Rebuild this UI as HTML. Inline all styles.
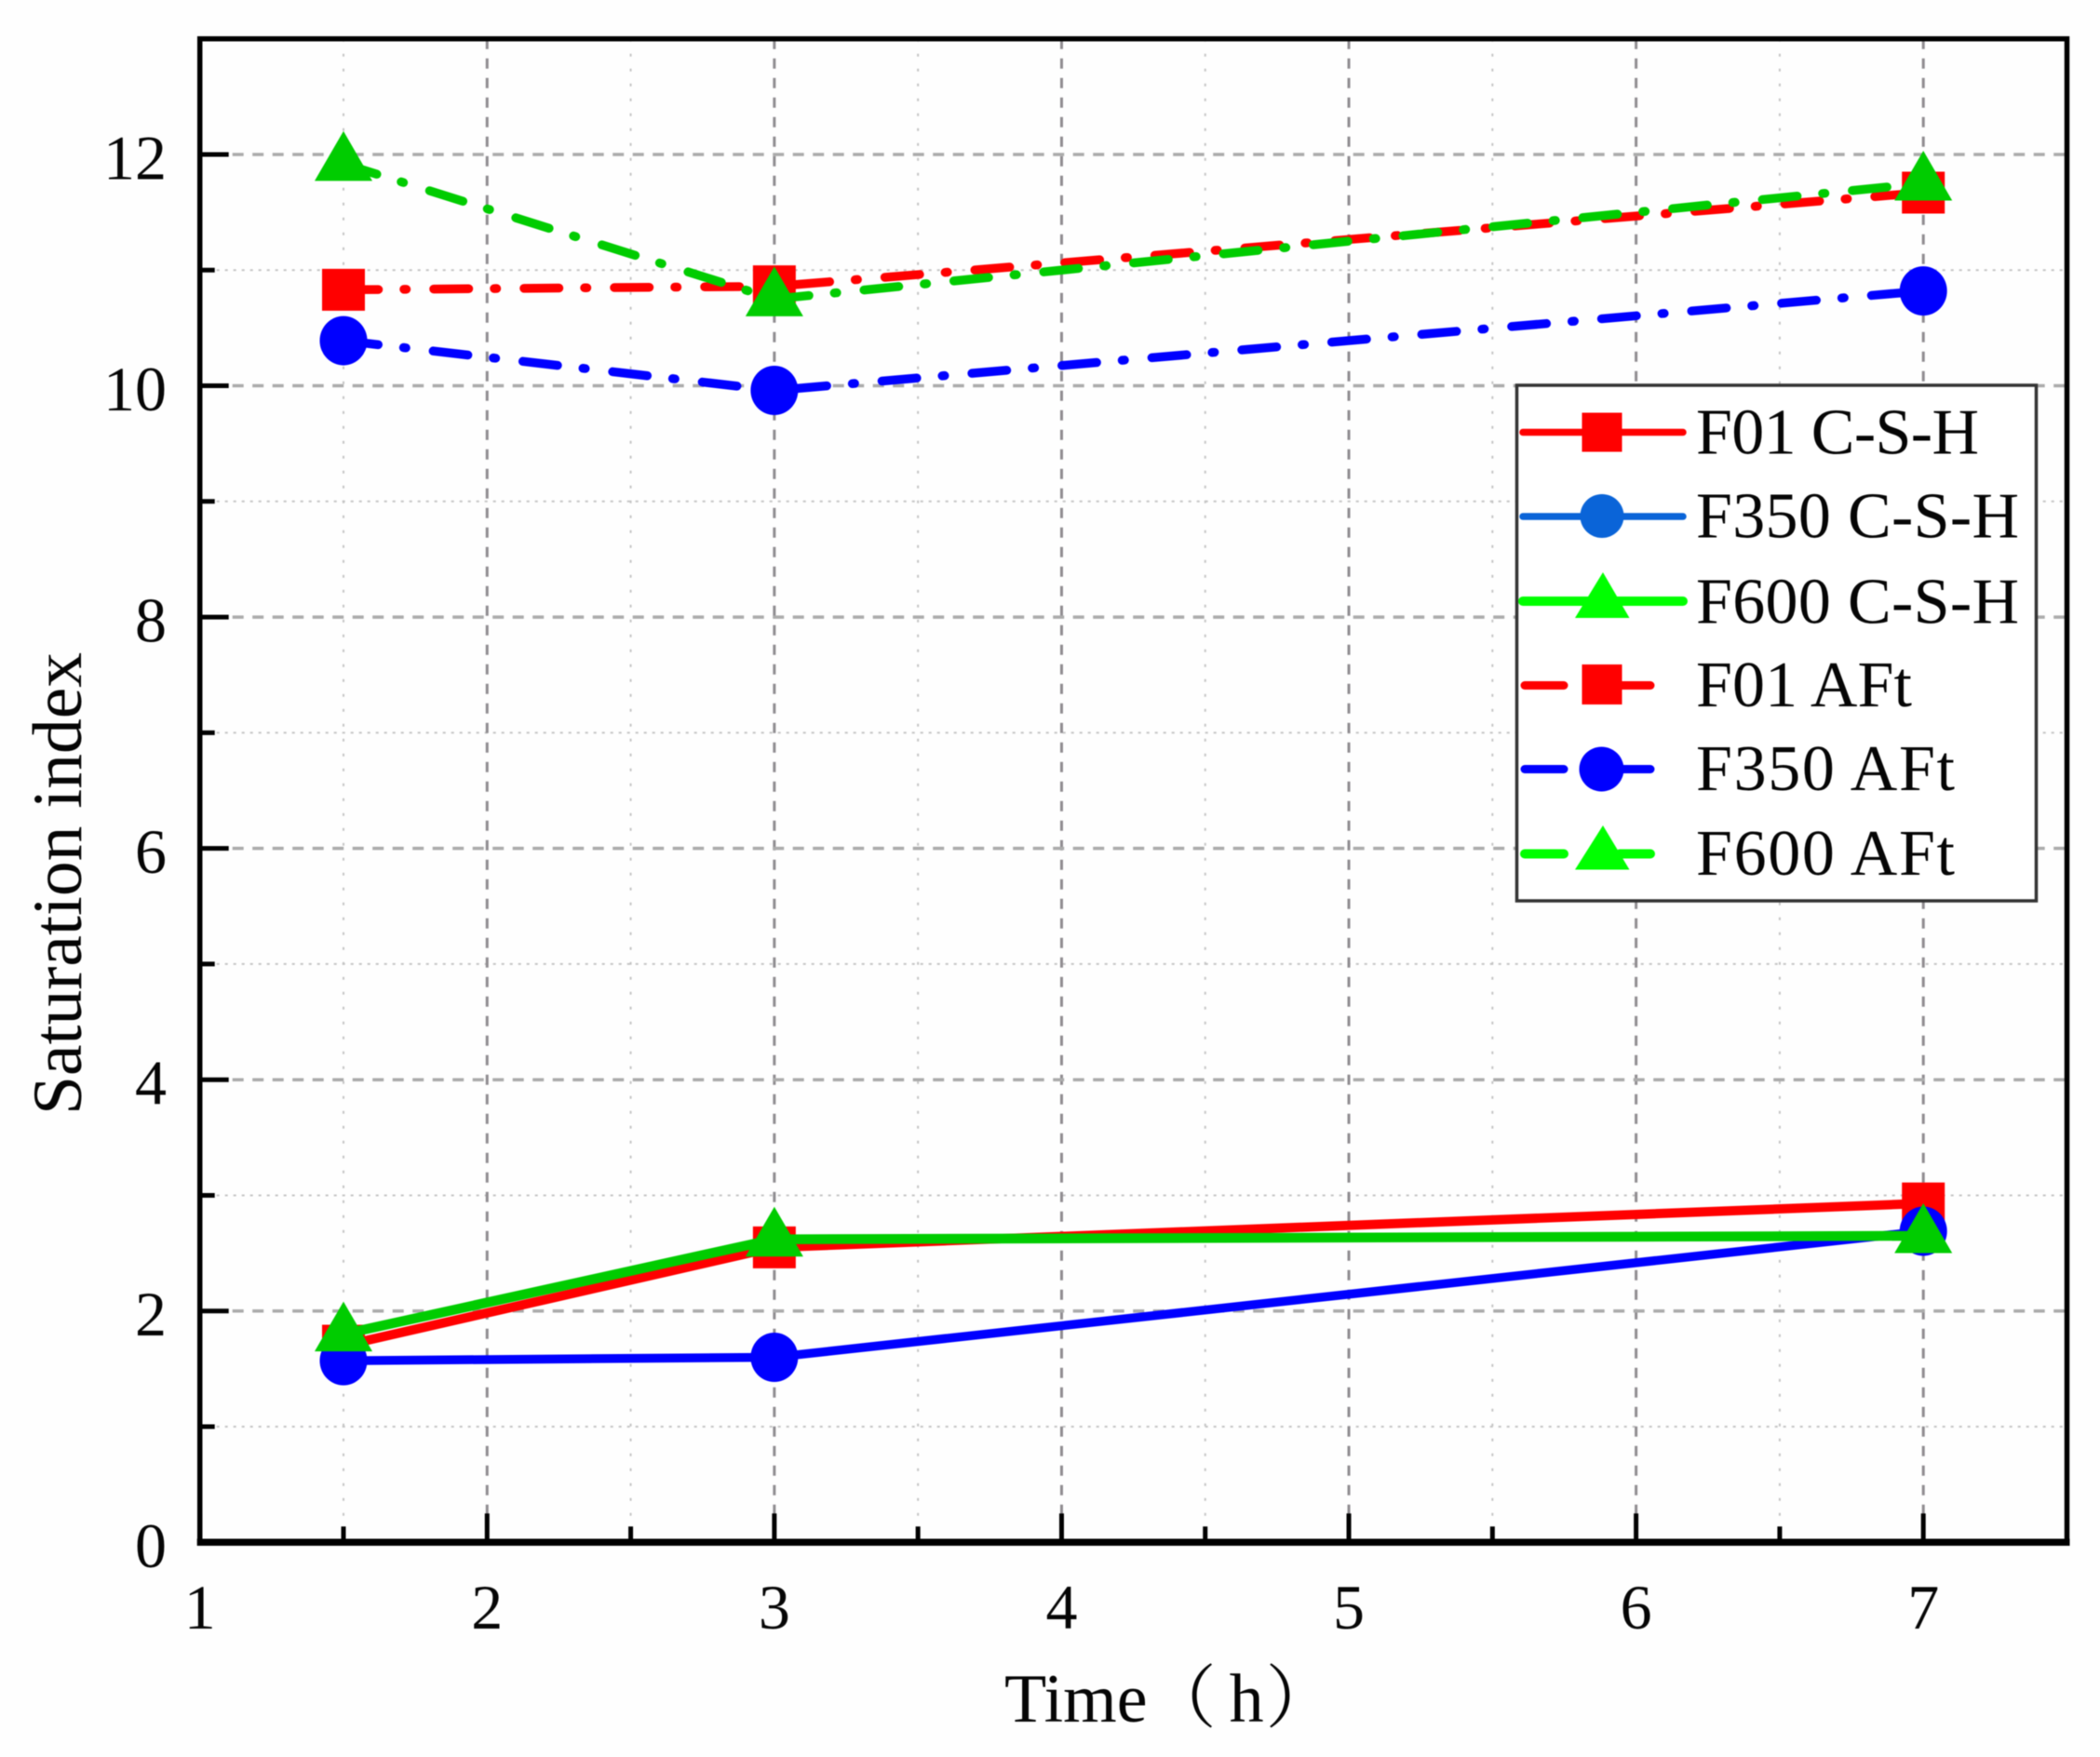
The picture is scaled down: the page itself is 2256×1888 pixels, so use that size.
<!DOCTYPE html>
<html lang="en">
<head>
<meta charset="utf-8">
<title>Saturation index vs time</title>
<style>
  html, body { margin: 0; padding: 0; background: #fefefe; }
  svg { display: block; filter: blur(0.6px); }
  text { font-family: "Liberation Serif", "Noto Serif CJK SC", serif; fill: #050505; }
</style>
</head>
<body>
<svg id="chart" xmlns="http://www.w3.org/2000/svg" width="2256" height="1888" viewBox="0 0 2256 1888">
  <rect x="0" y="0" width="2256" height="1888" fill="#fefefe"/>
  <g id="grid"></g>
  <g id="series"></g>
  <g id="axes"></g>
  <text x="1079" y="1850" font-size="74">Time（<tspan dx="14">h</tspan><tspan dx="2">）</tspan></text>
  <text transform="translate(87,949.5) rotate(-90)" text-anchor="middle" font-size="75.5">Saturation index</text>

  <g>
    <rect x="1629.5" y="414" width="558" height="554" fill="#ffffff" stroke="#333333" stroke-width="3.5"/>

    <g>
      <line x1="1636" y1="464.5" x2="1808" y2="464.5" stroke="#ff0000" stroke-width="7.5" stroke-linecap="round"/>
      <rect x="1699.5" y="443.5" width="43" height="42" fill="#ff0000"/>
      <text x="1822" y="487.5" font-size="70" textLength="304">F01 C-S-H</text>
    </g>
    <g>
      <line x1="1636" y1="555" x2="1808" y2="555" stroke="#0a64d8" stroke-width="7.5" stroke-linecap="round"/>
      <circle cx="1721" cy="554.5" r="23.5" fill="#0a64d8"/>
      <text x="1822" y="577.5" font-size="70" textLength="347">F350 C-S-H</text>
    </g>
    <g>
      <line x1="1636" y1="646" x2="1808" y2="646" stroke="#00ff00" stroke-width="10" stroke-linecap="round"/>
      <polygon points="1722,615 1750.5,664 1692,664" fill="#00ff00"/>
      <text x="1822" y="669.5" font-size="70" textLength="347">F600 C-S-H</text>
    </g>
    <g>
      <line x1="1638" y1="736.5" x2="1680" y2="736.5" stroke="#ff0000" stroke-width="9" stroke-linecap="round"/>
      <line x1="1740" y1="736.5" x2="1773" y2="736.5" stroke="#ff0000" stroke-width="9" stroke-linecap="round"/>
      <rect x="1699.5" y="714" width="43" height="43" fill="#ff0000"/>
      <text x="1822" y="759" font-size="70" textLength="232">F01 AFt</text>
    </g>
    <g>
      <line x1="1638" y1="826.5" x2="1680" y2="826.5" stroke="#0000ff" stroke-width="9" stroke-linecap="round"/>
      <line x1="1740" y1="826.5" x2="1773" y2="826.5" stroke="#0000ff" stroke-width="9" stroke-linecap="round"/>
      <circle cx="1720.5" cy="826.5" r="24" fill="#0000ff"/>
      <text x="1822" y="849" font-size="70" textLength="278">F350 AFt</text>
    </g>
    <g>
      <line x1="1638" y1="917.5" x2="1680" y2="917.5" stroke="#00ff00" stroke-width="10" stroke-linecap="round"/>
      <line x1="1740" y1="917.5" x2="1773" y2="917.5" stroke="#00ff00" stroke-width="10" stroke-linecap="round"/>
      <polygon points="1722,887 1750.5,934.5 1692,934.5" fill="#00ff00"/>
      <text x="1822" y="940" font-size="70" textLength="278">F600 AFt</text>
    </g>
  </g>
</svg>

<script>
// ---- chart data ----
const timeHours = [1.5, 3, 7];
const f01Csh = [1.70, 2.55, 2.93];
const f350Csh = [1.57, 1.60, 2.69];
const f600Csh = [1.80, 2.62, 2.65];
const f01Aft = [10.83, 10.86, 11.67];
const f350Aft = [10.39, 9.96, 10.82];
const f600Aft = [11.92, 10.75, 11.75];

const xTickLabels = ["1", "2", "3", "4", "5", "6", "7"];
const yTickLabels = ["0", "2", "4", "6", "8", "10", "12"];
const xMinorValues = [1.5, 2.5, 3.5, 4.5, 5.5, 6.5];
const yMinorValues = [1, 3, 5, 7, 9, 11];

// ---- axis functions ----
const plotLeft = 214.7, plotRight = 2220.5, plotTop = 41.7, plotBottom = 1657.3;
const xMin = 1, xMax = 7.5, yMin = 0, yMax = 13;
function xScale(v) { return plotLeft + (v - xMin) / (xMax - xMin) * (plotRight - plotLeft); }
function yScale(v) { return plotBottom - (v - yMin) / (yMax - yMin) * (plotBottom - plotTop); }

const NS = "http://www.w3.org/2000/svg";
function make(parent, tag, attrs) {
  const el = document.createElementNS(NS, tag);
  for (const k in attrs) el.setAttribute(k, attrs[k]);
  parent.appendChild(el);
  return el;
}

const gridG = document.getElementById("grid");
const seriesG = document.getElementById("series");
const axesG = document.getElementById("axes");

// ---- grid ----
xMinorValues.forEach(function (v) {
  const el = make(gridG, "line", { x1: xScale(v), x2: xScale(v), y1: plotTop, y2: plotBottom, stroke: "#c4c4c4", "stroke-width": 2, "stroke-dasharray": "3 13" });
  
  
});
yMinorValues.forEach(function (v) {
  const el = make(gridG, "line", { x1: plotLeft, x2: plotRight, y1: yScale(v), y2: yScale(v), stroke: "#c4c4c4", "stroke-width": 2, "stroke-dasharray": "3 6" });
  
  
});
xTickLabels.forEach(function (t) {
  const v = Number(t);
  if (v === xMin) return;
  const el = make(gridG, "line", { x1: xScale(v), x2: xScale(v), y1: plotTop, y2: plotBottom, stroke: "#8f8c90", "stroke-width": 3, "stroke-dasharray": "11 10" });
  
  
});
yTickLabels.forEach(function (t) {
  const v = Number(t);
  if (v === yMin) return;
  const el = make(gridG, "line", { x1: plotLeft + 35, x2: plotRight, y1: yScale(v), y2: yScale(v), stroke: "#ababab", "stroke-width": 3.5, "stroke-dasharray": "12 9.5" });
  
  
});

// ---- series ----
const red = "#ff0000", blue = "#0000ff", green = "#00cc00";
const dashDot = "37.5 27.5 2.5 29.5";

function linePoints(values) {
  return values.map(function (v, i) { return xScale(timeHours[i]) + "," + yScale(v); }).join(" ");
}
function drawMarker(group, shape, color, v, i) {
  const cx = xScale(timeHours[i]), cy = yScale(v);
  if (shape === "square") {
    make(group, "rect", { x: cx - 23, y: cy - 22.5, width: 46, height: 45, fill: color });
  } else if (shape === "circle") {
    make(group, "ellipse", { cx: cx, cy: cy, rx: 25.5, ry: 26.5, fill: color });
  } else {
    make(group, "polygon", { points: cx + "," + (cy - 35) + " " + (cx + 31) + "," + (cy + 18.5) + " " + (cx - 31) + "," + (cy + 18.5), fill: color });
  }
}
function drawLine(group, values, color, width, dash) {
  const attrs = { points: linePoints(values), fill: "none", stroke: color, "stroke-width": width, "stroke-linejoin": "round" };
  if (dash) { attrs["stroke-dasharray"] = dash; attrs["stroke-linecap"] = "round"; }
  return make(group, "polyline", attrs);
}

const g1 = make(seriesG, "g", {});


drawLine(g1, f01Csh, red, 10, null);
f01Csh.forEach(function (v, i) { drawMarker(g1, "square", red, v, i); });

const g2 = make(seriesG, "g", {});


drawLine(g2, f350Csh, blue, 9.5, null);
f350Csh.forEach(function (v, i) { drawMarker(g2, "circle", blue, v, i); });

const g3 = make(seriesG, "g", {});


drawLine(g3, f600Csh, green, 10.5, null);
f600Csh.forEach(function (v, i) { drawMarker(g3, "triangle", green, v, i); });

const g4 = make(seriesG, "g", {});


drawLine(g4, f01Aft, red, 9.5, dashDot);
f01Aft.forEach(function (v, i) { drawMarker(g4, "square", red, v, i); });

const g5 = make(seriesG, "g", {});


drawLine(g5, f350Aft, blue, 9.5, dashDot);
f350Aft.forEach(function (v, i) { drawMarker(g5, "circle", blue, v, i); });

const g6 = make(seriesG, "g", {});


drawLine(g6, f600Aft, green, 9.5, dashDot);
f600Aft.forEach(function (v, i) { drawMarker(g6, "triangle", green, v, i); });

// ---- axes ----
const frame = make(axesG, "rect", { x: plotLeft, y: plotTop, width: plotRight - plotLeft, height: plotBottom - plotTop, fill: "none", stroke: "#000000", "stroke-width": 5.5 });


const bottomAxis = make(axesG, "line", { x1: plotLeft - 3, x2: plotRight + 3, y1: plotBottom, y2: plotBottom, stroke: "#000000", "stroke-width": 7.5 });



xTickLabels.forEach(function (t) {
  const x = xScale(Number(t));
  const tick = make(axesG, "line", { x1: x, x2: x, y1: plotBottom, y2: plotBottom - 31, stroke: "#000000", "stroke-width": 5 });
  
  
  const label = make(axesG, "text", { x: x, y: 1750, "text-anchor": "middle", "font-size": 68 });
  label.textContent = t;
  
  
});
xMinorValues.forEach(function (v) {
  const tick = make(axesG, "line", { x1: xScale(v), x2: xScale(v), y1: plotBottom, y2: plotBottom - 17, stroke: "#000000", "stroke-width": 5 });
  
  
});
yTickLabels.forEach(function (t) {
  const y = yScale(Number(t));
  const tick = make(axesG, "line", { x1: plotLeft, x2: plotLeft + 31, y1: y, y2: y, stroke: "#000000", "stroke-width": 5 });
  
  
  const label = make(axesG, "text", { x: 179, y: y + 26.5, "text-anchor": "end", "font-size": 68 });
  label.textContent = t;
  
  
});
yMinorValues.forEach(function (v) {
  const tick = make(axesG, "line", { x1: plotLeft, x2: plotLeft + 16, y1: yScale(v), y2: yScale(v), stroke: "#000000", "stroke-width": 5 });
  
  
});
</script>
</body>
</html>
